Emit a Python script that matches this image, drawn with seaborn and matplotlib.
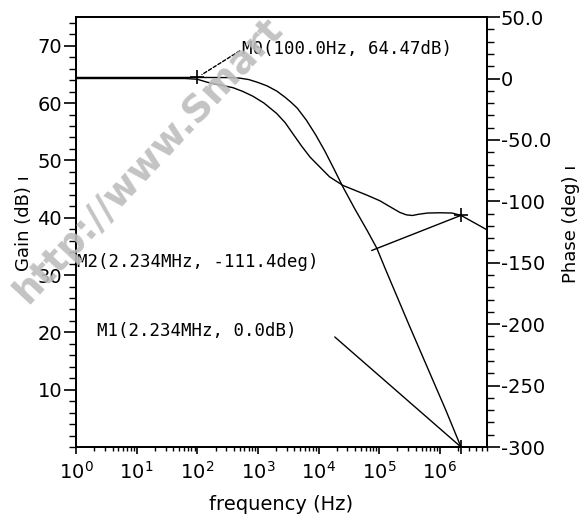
import numpy as np
import seaborn as sns
import matplotlib
matplotlib.use('Agg')
import matplotlib.pyplot as plt
from matplotlib.ticker import LogLocator, NullFormatter, MultipleLocator

## values
gain_freq = [1, 100, 316, 501, 708, 1000, 1413, 2042, 2818, 3548, 4467, 6310, 8913, 12590, 17780,
             25120, 39810, 63100, 91200, 125900, 199500, 316200, 501200, 794300, 1259000, 2234000]
gain_db = [64.47, 64.47, 64.45, 64.35, 64.1, 63.6, 63.0, 62.1, 61.0, 60.1, 59.1, 57.0, 54.5, 51.7, 48.6,
           45.4, 41.5, 37.8, 34.7, 31.1, 26.1, 21.1, 16.2, 11.3, 6.4, 0.0]

phase_freq = [1, 63, 100, 145, 251, 389, 562, 832, 1259, 2042, 2818, 3715, 5248, 7244, 10000, 15140,
              25120, 39810, 63100, 102300, 158500, 218800, 281800, 354800, 446700, 631000, 1000000,
              1585000, 2234000, 5900000]
phase_deg = [0, 0, -0.6, -3.0, -5.5, -7.5, -10.5, -14.5, -20.0, -28.5, -36.0, -44.5, -55.0, -64.0, -71.0,
             -80.0, -87.0, -91.0, -95.0, -99.5, -105.0, -109.0, -111.0, -111.5, -110.5, -109.5, -109.3,
             -109.5, -111.4, -123.0]

# markers M0, M1 (gain axis) and M2 (phase axis)
marker_freq = [100.0, 2.234e6, 2.234e6]
marker_value = [64.47, 0.0, -111.4]
marker_labels = ['M0(100.0Hz, 64.47dB)', 'M1(2.234MHz, 0.0dB)', 'M2(2.234MHz, -111.4deg)']

freq_ticks = [1, 10, 100, 1e3, 1e4, 1e5, 1e6]
gain_ticks = [10, 20, 30, 40, 50, 60, 70]
phase_ticks = [50, 0, -50, -100, -150, -200, -250, -300]
phase_ticklabels = ['50.0', '0', '-50.0', '-100', '-150', '-200', '-250', '-300']

sns.set_style('ticks')
plt.rcParams['font.family'] = ['DejaVu Sans']
plt.rcParams['axes.linewidth'] = 1.3
plt.rcParams['axes.edgecolor'] = 'black'
plt.rcParams['text.color'] = 'black'
plt.rcParams['axes.labelcolor'] = 'black'
plt.rcParams['xtick.color'] = 'black'
plt.rcParams['ytick.color'] = 'black'

fig = plt.figure(figsize=(5.85, 5.18), dpi=100)
ax = fig.add_axes([0.130, 0.137, 0.7025, 0.830])
ax.set_xscale('log')
ax2 = ax.twinx()

sns.lineplot(x=gain_freq, y=gain_db, ax=ax, color='black', linewidth=1.0, sort=False)
sns.lineplot(x=phase_freq, y=phase_deg, ax=ax2, color='black', linewidth=1.0, sort=False)

# "+" markers
sns.scatterplot(x=marker_freq[:2], y=marker_value[:2], ax=ax, marker='+', s=90, color='black',
                linewidth=1.2, clip_on=False, zorder=5)
sns.scatterplot(x=marker_freq[2:], y=marker_value[2:], ax=ax2, marker='+', s=90, color='black',
                linewidth=1.2, clip_on=False, zorder=5)

# marker labels and leader lines
mono = dict(family='DejaVu Sans Mono', fontsize=12.5, ha='left', va='center', color='black')
ax.text(540, 69.5, marker_labels[0], **mono)
ax.annotate('', xy=(marker_freq[0], marker_value[0]), xytext=(500, 69.1),
            arrowprops=dict(arrowstyle='-', linestyle=(0, (2.5, 1.5)), color='black', lw=1.0,
                            shrinkA=0, shrinkB=4))
ax.text(2.22, 20.2, marker_labels[1], **mono)
ax.annotate('', xy=(marker_freq[1], marker_value[1]), xytext=(18500, 19.2),
            arrowprops=dict(arrowstyle='-', color='black', lw=1.0, shrinkA=0, shrinkB=0))
ax2.text(1.04, -149.7, marker_labels[2], **mono)
ax2.annotate('', xy=(marker_freq[2], marker_value[2]), xytext=(75200, -140.0),
             arrowprops=dict(arrowstyle='-', color='black', lw=1.0, shrinkA=0, shrinkB=0))

# axes limits and ticks
ax.set_xlim(1, 6e6)
ax.set_ylim(0, 75)
ax2.set_ylim(-300, 50)

ax.set_xticks(freq_ticks)
ax.xaxis.set_minor_locator(LogLocator(base=10, subs=np.arange(2, 10), numticks=30))
ax.xaxis.set_minor_formatter(NullFormatter())
ax.set_xlim(1, 6e6)
ax.set_yticks(gain_ticks)
ax.yaxis.set_minor_locator(MultipleLocator(2))
ax2.set_yticks(phase_ticks)
ax2.set_yticklabels(phase_ticklabels)
ax2.yaxis.set_minor_locator(MultipleLocator(10))

ax.tick_params(axis='x', which='major', direction='out', length=5, width=1.2, labelsize=14, pad=5)
ax.tick_params(axis='x', which='minor', direction='out', length=3, width=1.0)
ax.tick_params(axis='y', which='major', direction='out', length=9, width=1.2, labelsize=14, pad=1)
ax.tick_params(axis='y', which='minor', direction='out', length=5, width=1.0)
ax2.tick_params(axis='y', which='major', direction='out', length=9, width=1.2, labelsize=14, pad=1)
ax2.tick_params(axis='y', which='minor', direction='out', length=5, width=1.0)

ax.set_xlabel('frequency (Hz)', fontsize=14)
ax.xaxis.set_label_coords(0.5, -0.112)
ax.set_ylabel('Gain (dB) ı', fontsize=13)
ax.yaxis.set_label_coords(-0.105, 0.52)
ax2.set_ylabel('Phase (deg) ı', fontsize=13)
ax2.yaxis.set_label_coords(1.183, 0.52)

# watermark across the top-left
fig.text(0.255, 0.69, 'http://www.Smart', rotation=47, rotation_mode='anchor', ha='center', va='center',
         fontsize=27, fontweight='bold', color='#bdbdbd', alpha=0.9)

fig.savefig('out.png', dpi=100)
